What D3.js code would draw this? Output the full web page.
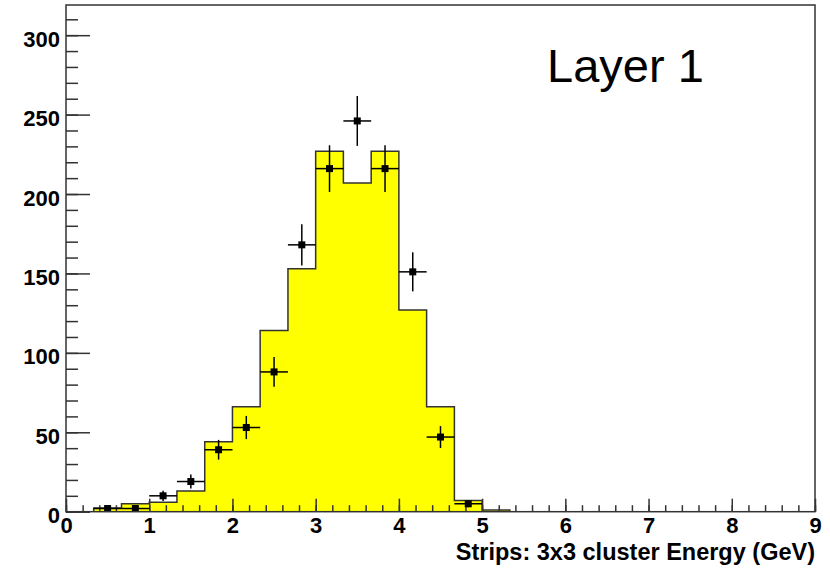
<!DOCTYPE html>
<html lang="en">
<head>
    <meta charset="UTF-8">
    <title>Strips: 3x3 cluster Energy, Layer 1</title>
    <script src="https://d3js.org/d3.v7.min.js"></script>
    <style>
        body { margin: 0; background: #fff; }
        text { font-family: Arial, "Liberation Sans", Helvetica, sans-serif; }
    </style>
</head>
<body>
<svg width="830" height="571"></svg>
<script>
    // bin edges (GeV), bins are 1/3 GeV wide
    const binEdges = [0.333, 0.667, 1.0, 1.333, 1.667, 2.0, 2.333, 2.667, 3.0,
                      3.333, 3.667, 4.0, 4.333, 4.667, 5.0, 5.333]
    // filled (yellow) histogram, one value per bin
    const mcCounts = [2.3, 5, 6, 13, 44, 66, 114, 153, 227, 207, 227, 127, 66, 7, 1]
    // data points (bin centres), counts and vertical errors
    const dataCounts = [2, 2, 10, 19, 39, 53, 88, 168, 216, 246, 216, 151, 47, 5, 0]
    const dataErrors = [1.4, 1.4, 3.2, 4.4, 6.2, 7.3, 9.4, 13, 14.7, 15.7, 14.7, 12.3, 6.9, 2.2, 0]

    const xMajor = [0, 1, 2, 3, 4, 5, 6, 7, 8, 9]
    const yMajor = [0, 50, 100, 150, 200, 250, 300]

    let svg = d3.select('svg')

    let x = d3.scaleLinear().domain([0, 9]).range([66, 815])
    let y = d3.scaleLinear().domain([0, 319]).range([511.7, 5])

    // histogram outline as a step path
    let pts = [[binEdges[0], 0]]
    mcCounts.forEach((v, i) => {
        pts.push([binEdges[i], v])
        pts.push([binEdges[i + 1], v])
    })
    pts.push([binEdges[binEdges.length - 1], 0])

    let line = d3.line().x(d => x(d[0])).y(d => y(d[1]))

    svg.append("path")
        .attr("d", line(pts))
        .attr("fill", "#ffff00")
        .attr("stroke", "#333")
        .attr("stroke-width", 1.5)

    // axes: minor ticks first, then major with labels
    let xMinor = d3.axisBottom(x).tickValues(d3.range(0, 9.001, 0.2)).tickSizeInner(-6.5).tickSizeOuter(0).tickFormat("")
    let xAxis = d3.axisBottom(x).tickValues(xMajor).tickSizeInner(-13).tickSizeOuter(0).tickPadding(6).tickFormat(d3.format("d"))
    let yMinor = d3.axisLeft(y).tickValues(d3.range(0, 311, 10)).tickSizeInner(-12).tickSizeOuter(0).tickFormat("")
    let yAxis = d3.axisLeft(y).tickValues(yMajor).tickSizeInner(-24).tickSizeOuter(0).tickPadding(6).tickFormat(d3.format("d"))

    let axisG = svg.append("g")
    axisG.append("g").attr("transform", `translate(0,${y(0)})`).call(xMinor)
    axisG.append("g").attr("transform", `translate(0,${y(0)})`).call(xAxis)
    axisG.append("g").attr("transform", `translate(${x(0)},0)`).call(yMinor)
    axisG.append("g").attr("transform", `translate(${x(0)},0)`).call(yAxis)

    axisG.selectAll(".domain").remove()
    axisG.selectAll(".tick line").attr("stroke", "#333").attr("stroke-width", 1.5)
    axisG.selectAll(".tick text")
        .attr("fill", "#000")
        .style("font-size", "22px")
        .style("font-weight", "bold")
        .style("font-family", "Arial, 'Liberation Sans', sans-serif")
    axisG.selectAll("g:nth-child(4) .tick text").attr("dy", "0.5em")

    // data points with error bars
    let half = (binEdges[1] - binEdges[0]) / 2
    let pointData = dataCounts.map((c, i) => ({
        cx: (binEdges[i] + binEdges[i + 1]) / 2, c: c, e: dataErrors[i]
    })).filter(d => d.c > 0)

    let pts_g = svg.append("g").attr("stroke", "#000").attr("stroke-width", 1.5)
    pts_g.selectAll(".hbar").data(pointData).enter().append("line")
        .attr("x1", d => x(d.cx - half)).attr("x2", d => x(d.cx + half))
        .attr("y1", d => y(d.c)).attr("y2", d => y(d.c))
    pts_g.selectAll(".vbar").data(pointData).enter().append("line")
        .attr("x1", d => x(d.cx)).attr("x2", d => x(d.cx))
        .attr("y1", d => y(d.c - d.e)).attr("y2", d => y(d.c + d.e))
    svg.append("g").selectAll("rect").data(pointData).enter().append("rect")
        .attr("x", d => x(d.cx) - 3.5).attr("y", d => y(d.c) - 3.5)
        .attr("width", 7).attr("height", 7)
        .attr("fill", "#000")

    // frame
    svg.append("rect")
        .attr("x", x(0)).attr("y", y(319))
        .attr("width", x(9) - x(0)).attr("height", y(0) - y(319))
        .attr("fill", "none").attr("stroke", "#333").attr("stroke-width", 1.5)

    // axis title
    svg.append("text")
        .attr("x", 815).attr("y", 560)
        .attr("text-anchor", "end")
        .style("font-size", "23.5px").style("font-weight", "bold")
        .text("Strips: 3x3 cluster Energy (GeV)")

    // label
    svg.append("text")
        .attr("x", 547).attr("y", 82)
        .style("font-size", "47px")
        .text("Layer 1")
</script>
</body>
</html>
